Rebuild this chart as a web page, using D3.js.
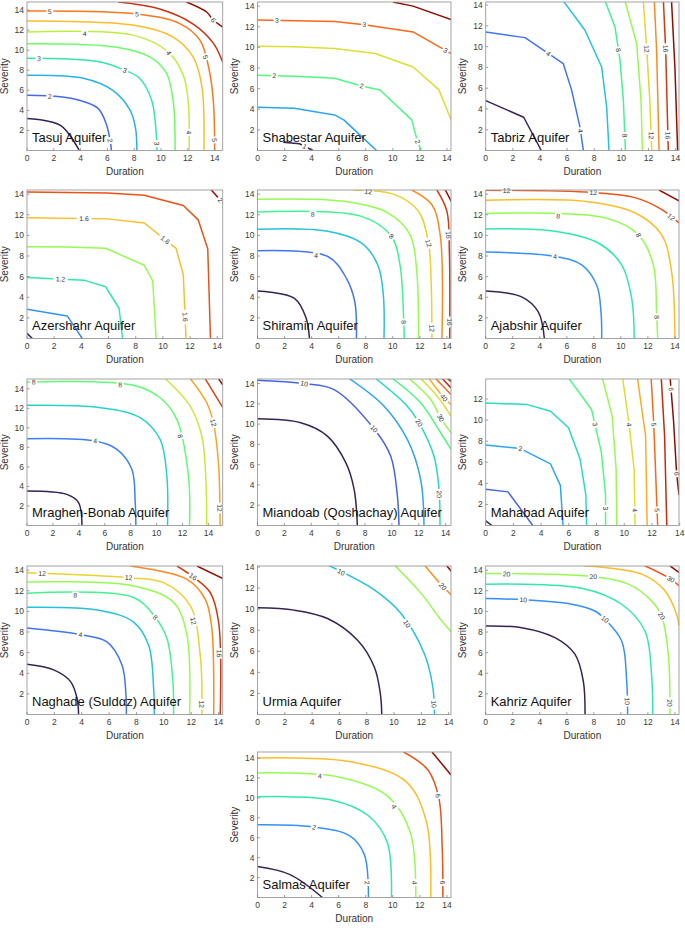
<!DOCTYPE html>
<html><head><meta charset="utf-8">
<script src="https://cdn.jsdelivr.net/npm/d3@7/dist/d3.min.js"></script>
<style>
body{margin:0;background:#fff;}
svg{display:block;font-family:"Liberation Sans",Arial,Helvetica,sans-serif;}
</style></head><body>
<svg id="fig" width="685" height="930"></svg>
<script>
// ---------------- DATA ----------------
const xTicks = [0,2,4,6,8,10,12,14];
const yTicks = [2,4,6,8,10,12,14];

const tasujLevels = [1.5,2,2.5,3,3.5,4,4.5,5,5.5,6];
const tasujLines = [
 [[0,3.2],[2.5,2.5],[3.9,0]],
 [[0,5.5],[2.5,5.35],[3.9,5.0],[5.3,4.2],[5.9,2.7],[6.2,1],[6.3,0]],
 [[0,7.5],[4.2,7.2],[6.4,6.0],[7.7,4.0],[8.1,2.2],[8.2,0]],
 [[0,9.2],[5.4,8.85],[7.3,8.0],[8.4,7.2],[9.3,5.0],[9.6,2.4],[9.7,0]],
 [[0,10.65],[6.7,10.3],[9.2,9.3],[10.4,7.7],[10.9,5.0],[11.05,0]],
 [[0,11.8],[7.9,11.5],[10.55,9.8],[11.7,7.35],[12.05,4.4],[12.1,0]],
 [[0,12.9],[7.9,12.5],[10.9,11.3],[12.4,9.3],[13.05,6.35],[13.2,0]],
 [[0,13.9],[8.2,13.6],[11.4,12.65],[12.9,11.0],[13.55,8.3],[13.9,5.0],[14.0,0]],
 [[6.8,14.8],[9.9,14.1],[12.4,12.6],[13.9,10.7],[14.6,8.8]],
 [[11.9,14.8],[13.4,13.8],[13.9,13.0],[14.6,12.3]]
];
const tasujLabels = [[1,1.7,5.5],[1,6.2,1.0],[3,0.9,9.2],[3,7.3,8.0],[3,9.7,0.7],[5,4.3,11.7],[5,10.55,9.7],[5,12.1,1.8],[7,1.7,13.8],[7,8.2,13.6],[7,13.3,9.3],[7,14.0,1.05],[9,13.9,13.0]];

const shabestarLevels = [1,1.5,2,2.5,3,3.5];
const shabestarLines = [
 [[1.9,0.8],[3.1,0.65],[4.1,0]],
 [[0,4.2],[2.7,4.1],[5.7,3.45],[6.4,2.95],[7.7,1.35],[8.8,0]],
 [[0,7.3],[2.7,7.2],[5.7,7.0],[7.7,6.25],[9.05,5.87],[11.4,2.97],[11.8,1.0],[12.1,0]],
 [[0,10.1],[2.7,10.06],[5.7,9.9],[8.7,9.4],[11.5,8.1],[13.4,5.9],[14.3,3.0]],
 [[0,12.65],[5.7,12.5],[7.9,12.2],[11.5,11.5],[13.9,9.7],[14.3,9.4]],
 [[10.0,14.4],[11.5,14.0],[14.3,12.7]]
];
const shabestarLabels = [[4,1.44,12.6],[4,7.9,12.2],[4,13.9,9.7],[2,1.24,7.2],[2,7.7,6.25],[2,11.9,0.9],[0,3.5,0.4]];

const tabrizLevels = [2,4,6,8,10,12,14,16,18];
const tabrizLines = [
 [[0,4.8],[2.8,3.2],[4.1,0]],
 [[0,11.4],[2.9,10.87],[5.72,8.36],[6.34,5.79],[6.95,2.25],[7.2,0]],
 [[5.72,14.4],[7.32,11.58],[8.55,8.04],[8.92,4.18],[9.09,0]],
 [[8.8,14.4],[9.53,11.9],[9.9,8.7],[10.15,4.8],[10.3,0]],
 [[10.27,14.4],[11.13,10.3],[11.45,4.8],[11.55,0]],
 [[11.62,14.4],[11.87,9.8],[12.1,4.8],[12.24,0]],
 [[12.43,14.4],[12.6,9.65],[12.78,0]],
 [[13.1,14.4],[13.27,9.65],[13.46,0]],
 [[13.7,14.4],[13.95,8.0],[14.15,0]]
];
const tabrizLabels = [[1,4.6,9.3],[1,6.95,1.9],[3,9.65,9.65],[3,10.27,1.45],[5,11.95,9.8],[5,12.1,1.45],[7,13.3,9.8],[7,13.4,1.45]];

const azershahrLevels = [0.8,1.0,1.2,1.4,1.6,1.8,2.0];
const azershahrLines = [
 [[0,0.5],[0.4,0]],
 [[0,2.84],[2.96,2.19],[4.07,0]],
 [[0,5.92],[4.19,5.66],[5.79,5.02],[6.78,2.91],[7.03,0]],
 [[0,8.9],[2.96,8.88],[5.79,8.75],[8.63,7.1],[9.25,5.6],[9.5,0]],
 [[0,11.7],[5.9,11.6],[8.63,11.2],[10.97,8.74],[11.5,6.2],[11.7,0]],
 [[0,14.2],[5.9,14.1],[8.63,13.9],[11.5,12.9],[12.6,11.5],[13.3,8.7],[13.5,0]],
 [[13.5,14.5],[14.5,13.0]]
];
const azershahrLabels = [[2,2.47,5.9],[4,4.2,11.6],[4,10.1,9.45],[4,11.7,2.1],[6,14.2,13.4]];

const shiraminLevels = [2,4,6,8,10,12,14,16,18];
const shiraminLines = [
 [[0,4.6],[2.73,3.9],[3.6,1.95],[3.84,0]],
 [[0,8.5],[5.2,7.95],[6.57,5.84],[7.19,3.57],[7.31,0]],
 [[0,10.6],[5.2,10.4],[7.7,9.25],[8.9,7.1],[9.3,4.2],[9.35,0]],
 [[0,12.26],[7.68,11.84],[9.91,9.89],[10.53,7.14],[10.8,2],[10.85,0]],
 [[0,13.5],[6.44,13.3],[9.67,12.16],[11.28,10.05],[11.77,6.49],[11.9,0]],
 [[7.06,14.4],[10.16,13.95],[11.9,12.33],[12.64,9.24],[12.84,5.19],[12.89,0]],
 [[11.4,14.4],[12.89,12.97],[13.5,10.05],[13.63,0]],
 [[13.26,14.4],[14.0,12.33],[14.18,8.4],[14.2,0]],
 [[13.88,14.4],[14.32,13.3]]
];
const shiraminLabels = [[1,4.34,8.1],[3,4.09,12.16],[3,9.9,9.9],[3,10.8,1.6],[5,8.18,14.2],[5,12.64,9.24],[5,12.84,1.0],[7,14.13,10.05],[7,14.18,1.6]];

const ajabshirLevels = [2,4,6,8,10,12,14];
const ajabshirLines = [
 [[0,4.6],[2.66,4.04],[3.89,2.58],[4.34,0]],
 [[0,8.38],[5.13,7.96],[7.1,7.14],[8.21,5.18],[8.53,2.58],[8.58,0]],
 [[0,10.63],[5.13,10.4],[8.33,9.26],[10.06,7.14],[10.8,3.88],[10.99,0]],
 [[0,12.13],[8.82,11.7],[11.29,10.07],[12.4,7.14],[12.64,2.58],[12.72,0]],
 [[0,13.4],[7.59,13.27],[11.04,12.19],[13.01,10.07],[13.75,6.49],[14.0,0]],
 [[0,14.38],[7.96,14.15],[11.04,13.66],[13.01,12.52],[14.3,11.2]],
 [[12.82,14.4],[14.3,13.34]]
];
const ajabshirLabels = [[1,5.13,7.96],[3,5.37,12.03],[3,11.4,10.07],[3,12.64,2.09],[5,1.55,14.3],[5,7.96,14.15],[5,13.88,12.03]];

const mraghenLevels = [2,4,6,8,10,12,14,16];
const mraghenLines = [
 [[0,3.54],[3.08,3.19],[3.98,2.34],[4.24,0]],
 [[0,8.89],[5.27,8.65],[6.94,7.8],[8.09,5.75],[8.35,2.34],[8.4,0]],
 [[0,12.3],[5.65,12.06],[8.73,11.04],[10.27,8.81],[10.79,5.07],[10.84,0]],
 [[0,14.7],[8.22,14.36],[10.27,13.08],[11.56,10.87],[12.46,5.07],[12.54,0]],
 [[10.66,15.05],[12.59,12.23],[13.49,9.16],[13.79,5.07],[13.87,0]],
 [[12.59,15.05],[13.87,12.57],[14.38,10.53],[14.77,6.44],[14.9,0]],
 [[13.74,15.05],[15.1,12.1]],
 [[14.77,15.05],[15.1,14.4]]
];
const mraghenLabels = [[3,0.51,14.7],[3,7.19,14.45],[3,12.0,9.2],[1,5.27,8.65],[5,14.38,10.53],[5,14.95,1.8]];

const miandoabLevels = [5,10,15,20,25,30,35,40,45,50,55];
const miandoabLines = [
 [[0,10.52],[3.22,10.13],[5.2,8.82],[6.57,6.2],[7.19,3.57],[7.43,0]],
 [[0,14.33],[3.47,14.0],[5.7,13.41],[8.67,9.54],[9.91,6.85],[10.41,2.92],[10.53,0]],
 [[6.82,14.5],[9.42,11.77],[11.15,8.49],[12.14,4.56],[12.39,0]],
 [[8.8,14.5],[11.15,11.77],[12.02,10.13],[13.13,6.85],[13.51,3.57],[13.58,0]],
 [[10.04,14.5],[12.14,12.1],[13.63,9.15],[14.4,7.51]],
 [[11.28,14.5],[12.89,12.43],[13.63,10.62],[14.4,9.15]],
 [[12.14,14.5],[13.38,12.75],[14.4,10.79]],
 [[12.76,14.5],[13.88,12.59],[14.4,11.93]],
 [[13.26,14.5],[14.4,12.92]],
 [[13.75,14.5],[14.4,13.57]],
 [[14.13,14.5],[14.4,14.2]]
];
const miandoabLabels = [[1,3.47,13.95],[1,8.67,9.54],[3,12.02,10.13],[3,13.6,3.08],[5,13.63,10.62],[7,13.88,12.59]];

const mahabadLevels = [1,1.5,2,2.5,3,3.5,4,4.5,5,5.5,6];
const mahabadLines = [
 [[0,0.44],[0.45,0]],
 [[0,3.44],[1.61,3.19],[3.4,0]],
 [[0,7.63],[2.5,7.3],[4.68,5.84],[5.39,3.81],[5.58,0]],
 [[0,11.63],[3.03,11.47],[4.68,10.84],[5.98,9.28],[6.81,6.31],[7.23,2.88],[7.28,0]],
 [[5.98,14],[7.64,11.0],[8.35,6.94],[8.65,2.88],[8.65,0]],
 [[8.42,14],[9.13,10.38],[9.41,5.38],[9.46,0]],
 [[9.88,14],[10.35,9.59],[10.71,5.38],[10.78,0]],
 [[10.95,14],[11.54,8.5],[11.65,0]],
 [[11.94,14],[12.13,9.59],[12.41,0]],
 [[12.67,14],[12.91,8.5],[13.07,0]],
 [[13.31,14],[13.55,10.06],[13.78,4.9],[13.95,2.9]]
];
const mahabadLabels = [[2,2.5,7.3],[4,7.87,9.59],[4,8.6,1.63],[6,10.35,9.59],[6,10.78,1.47],[8,12.13,9.59],[8,12.41,1.47],[10,13.38,12.94],[10,13.78,4.9]];

const naghadeLevels = [2,4,6,8,10,12,14,16,18];
const naghadeLines = [
 [[0,4.87],[1.95,4.33],[3.17,3.21],[3.65,1.62],[3.77,0]],
 [[0,8.38],[3.9,7.74],[5.84,7.04],[6.94,4.8],[7.23,1.94],[7.26,0]],
 [[0,10.39],[5.36,10.08],[7.79,8.96],[8.89,6.72],[9.25,2.58],[9.3,0]],
 [[0,11.76],[7.79,11.35],[9.37,9.43],[10.23,7.35],[10.66,3.21],[10.71,0]],
 [[0,12.85],[7.79,12.47],[10.71,10.87],[11.69,7.68],[11.88,0]],
 [[0,13.75],[7.43,13.27],[9.98,12.79],[11.93,10.55],[12.66,5.76],[12.78,0]],
 [[7.55,14.4],[11.69,13.1],[13.03,11.17],[13.51,8.3],[13.64,0]],
 [[10.96,14.4],[12.13,13.36],[13.39,11.83],[14.0,8.96],[14.12,0]],
 [[12.42,14.4],[14.32,13.17]]
];
const naghadeLabels = [[1,3.9,7.74],[3,3.53,11.67],[3,9.37,9.43],[5,1.1,13.73],[5,7.43,13.27],[5,12.3,9.1],[5,12.78,1.0],[7,12.13,13.36],[7,14.12,5.93]];

const urmiaLevels = [5,10,15,20,25];
const urmiaLines = [
 [[0,10.13],[2.69,9.91],[5.13,9.11],[7.33,7.04],[8.56,4.49],[9.0,1.94],[9.1,0]],
 [[5.13,14.2],[8.56,11.83],[10.51,9.59],[12.22,5.76],[12.84,2.58],[12.96,0]],
 [[10.02,14.2],[11.98,11.5],[13.45,8.96],[14.2,7.84]],
 [[12.22,14.2],[13.57,12.15],[14.2,11.35]],
 [[13.81,14.2],[14.2,13.57]]
];
const urmiaLabels = [[1,6.23,13.75],[1,11.2,8.8],[1,12.96,0.98],[3,13.57,12.15]];

const kahrizLevels = [5,10,15,20,25,30,35];
const kahrizLines = [
 [[0,8.59],[2.66,8.42],[5.13,7.45],[6.61,5.83],[7.22,3.24],[7.35,0]],
 [[0,11.24],[2.79,11.12],[6.36,10.69],[8.08,10.04],[8.82,9.24],[10.06,7.13],[10.43,3.24],[10.5,0]],
 [[0,12.64],[7.1,12.25],[10.06,10.69],[11.78,8.1],[12.27,3.89],[12.35,0]],
 [[0,13.68],[7.96,13.36],[10.55,12.64],[12.27,11.02],[13.01,9.56],[13.51,5.83],[13.63,0]],
 [[7.22,14.42],[11.54,13.61],[13.26,11.99],[14.12,9.72],[14.3,8.59]],
 [[11.78,14.42],[13.7,13.13],[14.3,12.48]],
 [[13.63,14.42],[14.3,13.77]]
];
const kahrizLabels = [[1,2.79,11.12],[1,8.82,9.24],[1,10.5,1.3],[3,1.55,13.68],[3,7.96,13.36],[3,13.01,9.56],[3,13.63,1.13],[5,13.7,13.13]];

const salmasLevels = [1,2,3,4,5,6,7];
const salmasLines = [
 [[0,3.1],[2.4,2.3],[4.8,0]],
 [[0,7.3],[4,7.1],[6.8,6.2],[7.9,4.3],[8.2,0]],
 [[0,10.1],[5.4,9.8],[8.2,8.2],[9.6,5.5],[9.9,0]],
 [[0,12.5],[6,12.1],[9.6,10.2],[11.3,6.5],[11.7,0]],
 [[0,14.0],[7,13.6],[11,11.6],[12.5,7.5],[12.8,0]],
 [[10.8,14.6],[12.6,12.8],[13.4,10],[13.65,5],[13.7,0]],
 [[12.9,14.6],[14.3,12.3]]
];
const salmasLabels = [[1,4.2,7.1],[1,8.2,1.5],[3,4.6,12.2],[3,10.2,9.2],[3,11.7,1.5],[5,13.3,10.2],[5,13.7,1.5]];

// ---------------- PANELS ----------------
const panels = [
 {name:"Tasuj Aquifer", xLabel:"Duration", xMax:14.6, yMax:14.8, levels:tasujLevels, lines:tasujLines, labels:tasujLabels, smooth:true},
 {name:"Shabestar Aquifer", xLabel:"Duration", xMax:14.3, yMax:14.4, levels:shabestarLevels, lines:shabestarLines, labels:shabestarLabels, smooth:false},
 {name:"Tabriz Aquifer", xLabel:"Duration", xMax:14.25, yMax:14.3, levels:tabrizLevels, lines:tabrizLines, labels:tabrizLabels, smooth:false},
 {name:"Azershahr Aquifer", xLabel:"Duration", xMax:14.4, yMax:14.4, levels:azershahrLevels, lines:azershahrLines, labels:azershahrLabels, smooth:false},
 {name:"Shiramin Aquifer", xLabel:"Duration", xMax:14.3, yMax:14.4, levels:shiraminLevels, lines:shiraminLines, labels:shiraminLabels, smooth:true},
 {name:"Ajabshir Aquifer", xLabel:"Duration", xMax:14.3, yMax:14.4, levels:ajabshirLevels, lines:ajabshirLines, labels:ajabshirLabels, smooth:true},
 {name:"Mraghen-Bonab Aquifer", xLabel:"Duration", xMax:15.1, yMax:15.0, levels:mraghenLevels, lines:mraghenLines, labels:mraghenLabels, smooth:true},
 {name:"Miandoab (Qoshachay) Aquifer", xLabel:"Druration", xMax:14.4, yMax:14.45, levels:miandoabLevels, lines:miandoabLines, labels:miandoabLabels, smooth:true},
 {name:"Mahabad Aquifer", xLabel:"Duration", xMax:13.95, yMax:13.9, levels:mahabadLevels, lines:mahabadLines, labels:mahabadLabels, smooth:false},
 {name:"Naghade (Suldαz) Aquifer", xLabel:"Duration", xMax:14.3, yMax:14.4, levels:naghadeLevels, lines:naghadeLines, labels:naghadeLabels, smooth:true},
 {name:"Urmia Aquifer", xLabel:"Duration", xMax:14.17, yMax:14.1, levels:urmiaLevels, lines:urmiaLines, labels:urmiaLabels, smooth:true},
 {name:"Kahriz Aquifer", xLabel:"Duration", xMax:14.3, yMax:14.4, levels:kahrizLevels, lines:kahrizLines, labels:kahrizLabels, smooth:true},
 {name:"Salmas Aquifer", xLabel:"Duration", xMax:14.3, yMax:14.6, levels:salmasLevels, lines:salmasLines, labels:salmasLabels, smooth:true}
];

// ---------------- LAYOUT ----------------
const colLeft = [27, 257.5, 485.7];
const colRight = [222.7, 451, 679];
const rowTop = [2, 190, 379, 566, 752];
const rowBottom = [150.5, 338.5, 525.5, 714.5, 897.5];
const cellOf = i => i < 12 ? [Math.floor(i/3), i%3] : [4, 1];

const svg = d3.select("#fig");
const defs = svg.append("defs");

panels.forEach((p, i) => {
  const [r, c] = cellOf(i);
  const L = colLeft[c], R = colRight[c], T = rowTop[r], B = rowBottom[r];
  const x = d3.scaleLinear().domain([0, p.xMax]).range([L, R]);
  const y = d3.scaleLinear().domain([0, p.yMax]).range([B, T]);
  const g = svg.append("g");
  const cid = "clip" + i;
  defs.append("clipPath").attr("id", cid).append("rect")
    .attr("x", L).attr("y", T).attr("width", R - L).attr("height", B - T);

  const lo = d3.min(p.levels), hi = d3.max(p.levels);
  const color = lv => d3.interpolateTurbo(0.02 + 0.96 * (lv - lo) / (hi - lo));

  const line = d3.line().x(d => x(d[0])).y(d => y(d[1]))
    .curve(p.smooth ? d3.curveCatmullRom.alpha(0.5) : d3.curveLinear);

  const cg = g.append("g").attr("clip-path", `url(#${cid})`);
  cg.selectAll("path.c").data(p.lines).join("path")
    .attr("class", "c")
    .attr("d", line)
    .attr("fill", "none")
    .attr("stroke", (d, k) => color(p.levels[k]))
    .attr("stroke-width", 1.5)
    .attr("stroke-linejoin", "round");

  // contour labels, snapped onto their line
  const fmt = v => (Math.round(v * 10) / 10).toString();
  p.labels.forEach(([k, lx, ly]) => {
    const pts = p.lines[k].map(d => [x(d[0]), y(d[1])]);
    const px = x(lx), py = y(ly);
    let best = null;
    for (let s = 0; s < pts.length - 1; s++) {
      const [ax, ay] = pts[s], [bx, by] = pts[s + 1];
      const dx = bx - ax, dy = by - ay;
      const len2 = dx * dx + dy * dy || 1;
      let t = ((px - ax) * dx + (py - ay) * dy) / len2;
      t = Math.max(0, Math.min(1, t));
      const qx = ax + t * dx, qy = ay + t * dy;
      const dist = (qx - px) ** 2 + (qy - py) ** 2;
      if (!best || dist < best.dist) best = {dist, qx, qy, ang: Math.atan2(dy, dx) * 180 / Math.PI};
    }
    let a = best.ang;
    if (a > 90) a -= 180;
    if (a < -90) a += 180;
    const txt = fmt(p.levels[k]);
    const w = txt.length * 3.9 + 3;
    const lg = g.append("g").attr("transform", `translate(${best.qx},${best.qy}) rotate(${a})`);
    lg.append("rect").attr("x", -w / 2).attr("y", -3.6).attr("width", w).attr("height", 7.2).attr("fill", "#fff");
    lg.append("text").attr("text-anchor", "middle").attr("dy", "0.35em")
      .attr("font-size", 6.8).attr("fill", "#333").text(txt);
  });

  // frame
  g.append("rect").attr("x", L).attr("y", T).attr("width", R - L).attr("height", B - T)
    .attr("fill", "none").attr("stroke", "#9a9a9a").attr("stroke-width", 0.9);

  // ticks
  const xt = xTicks.filter(v => v <= p.xMax + 0.05);
  const yt = yTicks.filter(v => v <= p.yMax + 0.05);
  g.selectAll("line.xt").data(xt).join("line").attr("class", "xt")
    .attr("x1", d => x(d)).attr("x2", d => x(d)).attr("y1", B).attr("y2", B - 2.5)
    .attr("stroke", "#777").attr("stroke-width", 0.7);
  g.selectAll("line.yt").data(yt).join("line").attr("class", "yt")
    .attr("y1", d => y(d)).attr("y2", d => y(d)).attr("x1", L).attr("x2", L + 2.5)
    .attr("stroke", "#777").attr("stroke-width", 0.7);
  g.selectAll("text.xl").data(xt).join("text").attr("class", "xl")
    .attr("x", d => x(d)).attr("y", B + 10).attr("text-anchor", "middle")
    .attr("font-size", 8.5).attr("fill", "#3a3a3a").text(d => d);
  g.selectAll("text.yl").data(yt).join("text").attr("class", "yl")
    .attr("x", L - 3).attr("y", d => y(d)).attr("dy", "0.35em").attr("text-anchor", "end")
    .attr("font-size", 8.5).attr("fill", "#3a3a3a").text(d => d);

  // axis titles
  g.append("text").attr("x", (L + R) / 2).attr("y", B + 24.5).attr("text-anchor", "middle")
    .attr("font-size", 10).attr("fill", "#333").text(p.xLabel);
  g.append("text").attr("transform", `translate(${L - 19.5},${(T + B) / 2}) rotate(-90)`)
    .attr("text-anchor", "middle").attr("font-size", 10).attr("fill", "#333").text("Severity");

  // panel name
  g.append("text").attr("x", L + 5).attr("y", B - 9).attr("font-size", 13)
    .attr("fill", "#111").text(p.name);
});
</script>
</body></html>
